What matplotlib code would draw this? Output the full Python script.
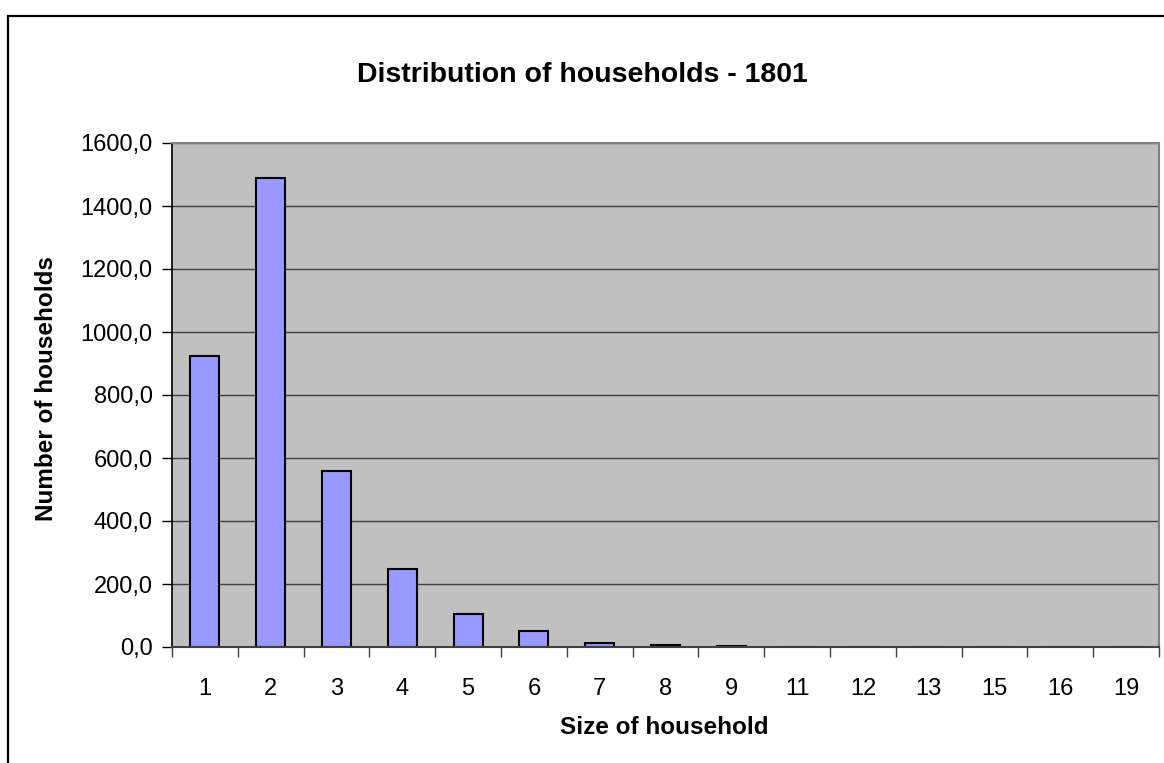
import matplotlib
matplotlib.use("Agg")
import matplotlib.pyplot as plt
from matplotlib.patches import Rectangle
from matplotlib.ticker import FuncFormatter, FixedLocator
import numpy as np

plt.rcParams['font.family'] = ['Liberation Sans', 'DejaVu Sans']

# household sizes and number of households
sizes = ['1', '2', '3', '4', '5', '6', '7', '8', '9', '11', '12', '13', '15', '16', '19']
counts = [923, 1490, 559, 248, 104, 50, 13, 5, 4, 1, 1, 1, 1, 1, 1]
yticks = [0, 200, 400, 600, 800, 1000, 1200, 1400, 1600]

fig = plt.figure(figsize=(11.64, 7.63), dpi=100)
ax = fig.add_axes([172 / 1164, 1 - 647 / 763, 987 / 1164, 504 / 763])

# outer chart frame (runs off the right and bottom edge like the original)
frame = Rectangle((8 / 1164, -0.05), 1.2, 1 - 16 / 763 + 0.05, transform=fig.transFigure,
                  fill=False, edgecolor='black', linewidth=1.6, clip_on=False)
fig.patches.append(frame)

x = np.arange(len(sizes))
ax.set_facecolor('#C0C0C0')
ax.bar(x, counts, width=0.44, color='#9999FF', edgecolor='black', linewidth=1.5, zorder=3)

ax.set_xlim(-0.5, len(sizes) - 0.5)
ax.set_ylim(0, 1600)
ax.set_yticks(yticks)
ax.yaxis.set_major_formatter(FuncFormatter(lambda v, p: f"{v:.1f}".replace('.', ',')))
ax.grid(axis='y', color='#404040', linewidth=1.0, zorder=1)

ax.set_xticks(x)
ax.set_xticklabels(sizes)
ax.xaxis.set_minor_locator(FixedLocator(np.arange(-0.5, len(sizes), 1.0)))
ax.tick_params(axis='x', which='major', length=0, labelsize=17, pad=30)
ax.tick_params(axis='x', which='minor', length=7, width=1, color='#404040', direction='out')
ax.tick_params(axis='y', length=7, width=1, labelsize=17, pad=7, direction='out')
for lbl in ax.get_xticklabels():
    lbl.set_va('center')

for side in ['top', 'right']:
    ax.spines[side].set_color('#808080')
    ax.spines[side].set_linewidth(1.5)
ax.spines['left'].set_color('black')
ax.spines['left'].set_linewidth(1.2)
ax.spines['bottom'].set_color('#404040')
ax.spines['bottom'].set_linewidth(1.5)
ax.spines['bottom'].set_zorder(4)

fig.text(582 / 1164, 1 - 75 / 763, 'Distribution of households - 1801', ha='center', va='center',
         fontsize=20.5, fontweight='bold')
fig.text(664 / 1164, 1 - 727 / 763, 'Size of household', ha='center', va='center',
         fontsize=17.5, fontweight='bold')
fig.text(47 / 1164, 1 - 389 / 763, 'Number of households', ha='center', va='center',
         fontsize=17.5, fontweight='bold', rotation=90)

fig.savefig('out.png', dpi=100)
